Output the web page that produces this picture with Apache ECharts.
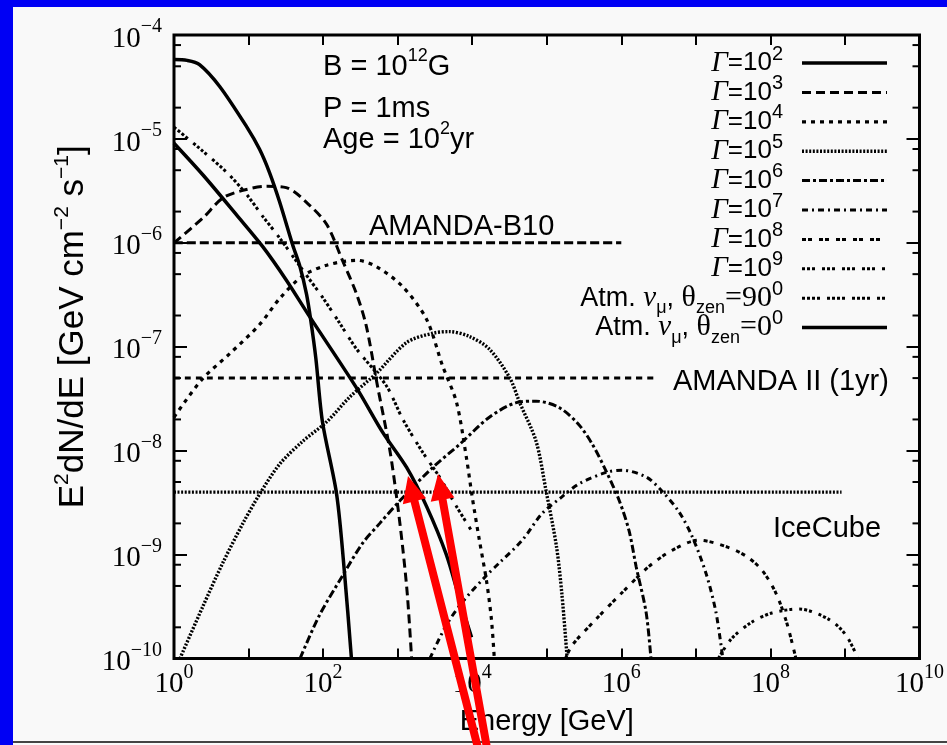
<!DOCTYPE html>
<html>
<head>
<meta charset="utf-8">
<script src="https://cdn.jsdelivr.net/npm/echarts@6.0.0/dist/echarts.min.js"></script>
<style>
html,body{margin:0;padding:0;background:#f9f9f9;}
#chart{width:947px;height:745px;}
</style>
</head>
<body>
<div id="chart"></div>
<script>
// ---------- data: [Energy (GeV), E^2 dN/dE (GeV cm^-2 s^-1)] ----------
const gamma1e2 = [[1,5.8e-5],[1.5,5.7e-5],[2.2,5.2e-5],[4.1,3.2e-5],[9.5,1.3e-5],[14,8.0e-6],[19,4.8e-6],[26,2.5e-6],[39,9.6e-7],[49,5.9e-7],[60,3.2e-7],[68,1.84e-7],[80,7.7e-8],[98,1.9e-8],[152,3.8e-9],[195,6.3e-10],[240,1e-10]];
const gamma1e3 = [[1,1e-6],[2.45,1.74e-6],[4.5,2.7e-6],[8.4,3.2e-6],[17.6,3.5e-6],[32,3.4e-6],[66,2.3e-6],[112,1.5e-6],[183,6.7e-7],[282,3.2e-7],[380,1.58e-7],[533,4.3e-8],[776,1.07e-8],[967,3.6e-9],[1164,1.2e-9],[1350,4.1e-10],[1540,1e-10]];
const gamma1e4 = [[1,2.1e-8],[2.37,4.85e-8],[5.6,8.6e-8],[14.2,1.65e-7],[26,2.9e-7],[53,4.8e-7],[112,6.1e-7],[282,6.8e-7],[522,5.9e-7],[1164,3.8e-7],[2440,1.84e-7],[3990,6.6e-8],[6150,2.93e-8],[8360,8.6e-9],[1.0e4,3.6e-9],[1.25e4,1.37e-9],[1.55e4,5.7e-10],[1.81e4,2.4e-10],[1.98e4,1e-10]];
const gamma1e5 = [[1.2,1e-10],[2.45,3.2e-10],[4.5,8.3e-10],[8.4,2.0e-9],[14,3.8e-9],[26,7.4e-9],[53,1.23e-8],[112,1.9e-8],[229,3.3e-8],[525,5.6e-8],[1320,1.1e-7],[2950,1.35e-7],[4900,1.4e-7],[9100,1.26e-7],[1.7e4,9.5e-8],[3.2e4,5e-8],[4.3e4,2.95e-8],[7.2e4,1.23e-8],[9.8e4,4.1e-9],[1.35e5,1.2e-9],[1.6e5,4.1e-10],[1.88e5,1e-10]];
const gamma1e6 = [[49,1e-10],[89,2.6e-10],[183,6.3e-10],[339,1.29e-9],[575,2.0e-9],[1070,3.3e-9],[2950,6.9e-9],[6760,1.15e-8],[1.7e4,2.1e-8],[3.9e4,2.9e-8],[7.2e4,3.0e-8],[1.47e5,2.6e-8],[2.7e5,1.78e-8],[4.1e5,1.15e-8],[6.3e5,6.3e-9],[9.4e5,3.3e-9],[1.27e6,1.7e-9],[1.58e6,7.7e-10],[2.15e6,2.8e-10],[2.5e6,1e-10]];
const gamma1e7 = [[2700,1e-10],[4500,2.1e-10],[7400,3.5e-10],[1.55e4,6.3e-10],[2.3e4,8.3e-10],[4.7e4,1.38e-9],[8.7e4,2.5e-9],[1.6e5,3.6e-9],[2.7e5,4.8e-9],[6.3e5,6.2e-9],[1.02e6,6.5e-9],[2.15e6,5.6e-9],[3.5e6,4.1e-9],[5.9e6,2.6e-9],[8.9e6,1.5e-9],[1.37e7,6.6e-10],[1.86e7,2.8e-10],[2.3e7,1e-10]];
const gamma1e8 = [[1.78e5,1e-10],[2.2e5,1.35e-10],[4.6e5,2.4e-10],[1.02e6,4.3e-10],[2.35e6,7.7e-10],[4.8e6,1.1e-9],[1.1e7,1.38e-9],[2.5e7,1.2e-9],[4.7e7,9.7e-10],[7.7e7,7.1e-10],[1.18e8,4.3e-10],[1.66e8,2.2e-10],[2.2e8,1e-10]];
const gamma1e9 = [[2.0e7,1e-10],[3.0e7,1.55e-10],[5.6e7,2.24e-10],[1.05e8,2.75e-10],[2.4e8,3.0e-10],[6.0e8,2.4e-10],[1.02e9,1.7e-10],[1.5e9,1e-10]];
const atm90 = [[1,1.3e-5],[2.45,7.6e-6],[5.2,4.7e-6],[9.5,2.9e-6],[15.5,1.8e-6],[26,1.12e-6],[53,5.5e-7],[98,3.0e-7],[166,1.7e-7],[282,9.5e-8],[708,4.2e-8],[1175,2.0e-8],[2140,9.8e-9],[3630,5.6e-9],[6170,2.9e-9],[9800,1.7e-9]];
const atm0 = [[1,9.1e-6],[2.45,4.5e-6],[6.9,1.86e-6],[15.5,9.2e-7],[32,4.4e-7],[66,1.95e-7],[282,4.0e-8],[630,1.5e-8],[1320,6.9e-9],[2450,2.9e-9],[4500,1.0e-9],[6800,3.7e-10],[9800,1.6e-10]];
const amandaB10 = [[1,1e-6],[1e6,1e-6]];
const amandaII = [[1,5e-8],[3e6,5e-8]];
const iceCube = [[1,4e-9],[9e8,4e-9]];

const xRange = [1, 1e10];
const yRange = [1e-10, 1e-4];
const yMinorTickValues = [2e-10,5e-10,8e-10,2e-9,5e-9,8e-9,2e-8,5e-8,8e-8,2e-7,5e-7,8e-7,2e-6,5e-6,8e-6,2e-5,5e-5,8e-5];

const legendLabels = [
  '{g|Γ}{a|=10}{s|2}','{g|Γ}{a|=10}{s|3}','{g|Γ}{a|=10}{s|4}','{g|Γ}{a|=10}{s|5}',
  '{g|Γ}{a|=10}{s|6}','{g|Γ}{a|=10}{s|7}','{g|Γ}{a|=10}{s|8}','{g|Γ}{a|=10}{s|9}',
  '{b|Atm. }{gi|ν}{sub|μ}{b|, }{gr|θ}{sub|zen}{gr|=90}{s|0}',
  '{b|Atm. }{gi|ν}{sub|μ}{b|, }{gr|θ}{sub|zen}{gr|=0}{s|0}'
];

const curves = [
  {name:'Γ=10^2', data:gamma1e2, dash:'solid', width:3.5},
  {name:'Γ=10^3', data:gamma1e3, dash:[9,5], width:3},
  {name:'Γ=10^4', data:gamma1e4, dash:[4,5], width:3.2},
  {name:'Γ=10^5', data:gamma1e5, dash:[2,1.6], width:3.4},
  {name:'Γ=10^6', data:gamma1e6, dash:[8,3,3,3], width:3},
  {name:'Γ=10^7', data:gamma1e7, dash:[6,4,2,4], width:3},
  {name:'Γ=10^8', data:gamma1e8, dash:[4,2,4,7], width:3},
  {name:'Γ=10^9', data:gamma1e9, dash:[3,2,3,2,3,7], width:3},
  {name:'Atm. ν_μ, θ_zen=90°', data:atm90, dash:[3,2,3,2,3,2,3,7], width:3},
  {name:'Atm. ν_μ, θ_zen=0°', data:atm0, dash:'solid', width:3.5}
];
const sensitivities = [
  {name:'AMANDA-B10', data:amandaB10, dash:[9,4], width:3},
  {name:'AMANDA II (1yr)', data:amandaII, dash:[6,5], width:3},
  {name:'IceCube', data:iceCube, dash:[2,1.6], width:3.4}
];

// ---------- chart ----------
const chart = echarts.init(document.getElementById('chart'), null, {renderer:'canvas'});
const BLUE = '#0000f4';

function expFormatter(v){
  const e = Math.round(Math.log10(v));
  return '{b|10}{s|' + (e < 0 ? '\u2212' + (-e) : e) + '}';
}
const tickRich = {
  b:{fontFamily:'Liberation Serif', fontSize:29, lineHeight:44, color:'#000'},
  s:{fontFamily:'Liberation Serif', fontSize:20, lineHeight:20, verticalAlign:'top', color:'#000'}
};
const sansRich = {
  a:{fontFamily:'Liberation Sans', fontSize:29, lineHeight:40, color:'#000'},
  s:{fontFamily:'Liberation Sans', fontSize:18, lineHeight:18, verticalAlign:'top', color:'#000'}
};

const series = [];
curves.concat(sensitivities).forEach(c => {
  series.push({
    type:'line', name:c.name, data:c.data, showSymbol:false, symbol:'none',
    smooth:0.3, clip:true, silent:true,
    lineStyle:{color:'#000', width:c.width, type:c.dash, cap:'butt'}
  });
});
series.push({
  type:'custom', silent:true, clip:false, z:5,
  data: yMinorTickValues.map(v => [xRange[0], v]),
  renderItem: function(params, api){
    const p = api.coord([xRange[0], api.value(1)]);
    const q = api.coord([xRange[1], api.value(1)]);
    return {type:'group', children:[
      {type:'line', shape:{x1:p[0], y1:p[1], x2:p[0]+7, y2:p[1]}, style:{stroke:'#000', lineWidth:2}},
      {type:'line', shape:{x1:q[0]-7, y1:q[1], x2:q[0], y2:q[1]}, style:{stroke:'#000', lineWidth:2}}
    ]};
  }
});

// graphics: frame, annotations, legend, arrows
const graphics = [
  {type:'rect', shape:{x:0, y:0, width:13, height:745}, style:{fill:BLUE}, z:0},
  {type:'rect', shape:{x:0, y:0, width:947, height:7}, style:{fill:BLUE}, z:0},
  {type:'line', shape:{x1:13, y1:742, x2:947, y2:742}, style:{stroke:'#444', lineWidth:2}},
  {type:'text', x:323, y:67, style:{text:'{a|B = 10}{s|12}{a|G}', rich:sansRich, align:'left', verticalAlign:'middle'}},
  {type:'text', x:323, y:109, style:{text:'{a|P = 1ms}', rich:sansRich, align:'left', verticalAlign:'middle'}},
  {type:'text', x:323, y:140, style:{text:'{a|Age = 10}{s|2}{a|yr}', rich:sansRich, align:'left', verticalAlign:'middle'}},
  {type:'text', x:369, y:227, style:{text:'{a|AMANDA-B10}', rich:sansRich, align:'left', verticalAlign:'middle'}},
  {type:'text', x:673, y:382, style:{text:'{a|AMANDA II (1yr)}', rich:sansRich, align:'left', verticalAlign:'middle'}},
  {type:'text', x:773, y:529, style:{text:'{a|IceCube}', rich:sansRich, align:'left', verticalAlign:'middle'}}
];
const legendRich = {
  g:{fontFamily:'Liberation Serif', fontStyle:'italic', fontSize:29, lineHeight:38, color:'#000'},
  a:{fontFamily:'Liberation Sans', fontSize:26, lineHeight:38, color:'#000'},
  b:{fontFamily:'Liberation Sans', fontSize:27, lineHeight:38, color:'#000'},
  gi:{fontFamily:'Liberation Serif', fontStyle:'italic', fontSize:29, lineHeight:38, color:'#000'},
  gr:{fontFamily:'Liberation Serif', fontSize:30, lineHeight:38, color:'#000'},
  s:{fontFamily:'Liberation Sans', fontSize:20, lineHeight:20, verticalAlign:'top', color:'#000'},
  sub:{fontFamily:'Liberation Sans', fontSize:18, lineHeight:18, verticalAlign:'bottom', color:'#000'}
};
curves.forEach((c, i) => {
  const y = 63 + 29.4 * i;
  graphics.push({type:'text', x:783, y:y, z:20, style:{text:legendLabels[i], rich:legendRich, align:'right', verticalAlign:'middle'}});
  graphics.push({type:'line', z:20, shape:{x1:802, y1:y, x2:887, y2:y},
    style:{stroke:'#000', lineWidth:c.width, lineDash: c.dash === 'solid' ? null : c.dash}});
});
function arrow(tip, tail){
  const dx = tip[0]-tail[0], dy = tip[1]-tail[1];
  const len = Math.hypot(dx, dy), ux = dx/len, uy = dy/len, nx = -uy, ny = ux;
  const sw = 4, hw = 12, hl = 26;
  const bx = tip[0]-ux*hl, by = tip[1]-uy*hl;
  return [[tail[0]+nx*sw, tail[1]+ny*sw],[bx+nx*sw, by+ny*sw],[bx+nx*hw, by+ny*hw],[tip[0],tip[1]],
          [bx-nx*hw, by-ny*hw],[bx-nx*sw, by-ny*sw],[tail[0]-nx*sw, tail[1]-ny*sw]];
}
graphics.push({type:'polygon', z:50, shape:{points:arrow([408,476],[478,748])}, style:{fill:'#ff0000'}});
graphics.push({type:'polygon', z:50, shape:{points:arrow([438,474],[487,748])}, style:{fill:'#ff0000'}});

const option = {
  animation:false,
  backgroundColor:'#f9f9f9',
  grid:{left:174, top:35, width:747, height:632, show:true, borderColor:'#000', borderWidth:3, backgroundColor:'transparent'},
  xAxis:[
    {type:'log', logBase:10, min:xRange[0], max:xRange[1], interval:1, splitNumber:10, position:'bottom',
     name:'Energy [GeV]', nameLocation:'middle', nameGap:45,
     nameTextStyle:{fontFamily:'Liberation Sans', fontSize:29, lineHeight:36, color:'#000'},
     axisLine:{show:false}, splitLine:{show:false},
     axisTick:{show:true, inside:true, length:10, lineStyle:{color:'#000', width:2}},
     axisLabel:{show:true, margin:4, interval:0, formatter: v => (Math.round(Math.log10(v)) % 2 === 0 ? expFormatter(v) : ''), rich:tickRich, showMinLabel:true, showMaxLabel:true, hideOverlap:false}},
    {type:'log', logBase:10, min:xRange[0], max:xRange[1], interval:1, splitNumber:10, position:'top',
     axisLine:{show:false}, splitLine:{show:false}, axisLabel:{show:false},
     axisTick:{show:true, inside:true, length:10, lineStyle:{color:'#000', width:2}}}
  ],
  yAxis:[
    {type:'log', logBase:10, min:yRange[0], max:yRange[1], interval:1, splitNumber:6, position:'left',
     name:'{a|E}{s|2}{a|dN/dE [GeV cm}{s|\u22122}{a| s}{s|\u22121}{a|]}', nameLocation:'middle', nameGap:80, nameRotate:90,
     nameTextStyle:{padding:[0,0,0,40], rich:{
        a:{fontFamily:'Liberation Sans', fontSize:35, lineHeight:42, color:'#000'},
        s:{fontFamily:'Liberation Sans', fontSize:21, lineHeight:21, verticalAlign:'top', color:'#000'}}},
     axisLine:{show:false}, splitLine:{show:false},
     axisTick:{show:true, inside:true, length:13, lineStyle:{color:'#000', width:2}},
     axisLabel:{show:true, margin:12, padding:[8,0,0,0], formatter: expFormatter, rich:tickRich, showMinLabel:true, showMaxLabel:true}},
    {type:'log', logBase:10, min:yRange[0], max:yRange[1], interval:1, splitNumber:6, position:'right',
     axisLine:{show:false}, splitLine:{show:false}, axisLabel:{show:false},
     axisTick:{show:true, inside:true, length:13, lineStyle:{color:'#000', width:2}}}
  ],
  series: series,
  graphic: graphics
};
chart.setOption(option);
</script>
</body>
</html>
